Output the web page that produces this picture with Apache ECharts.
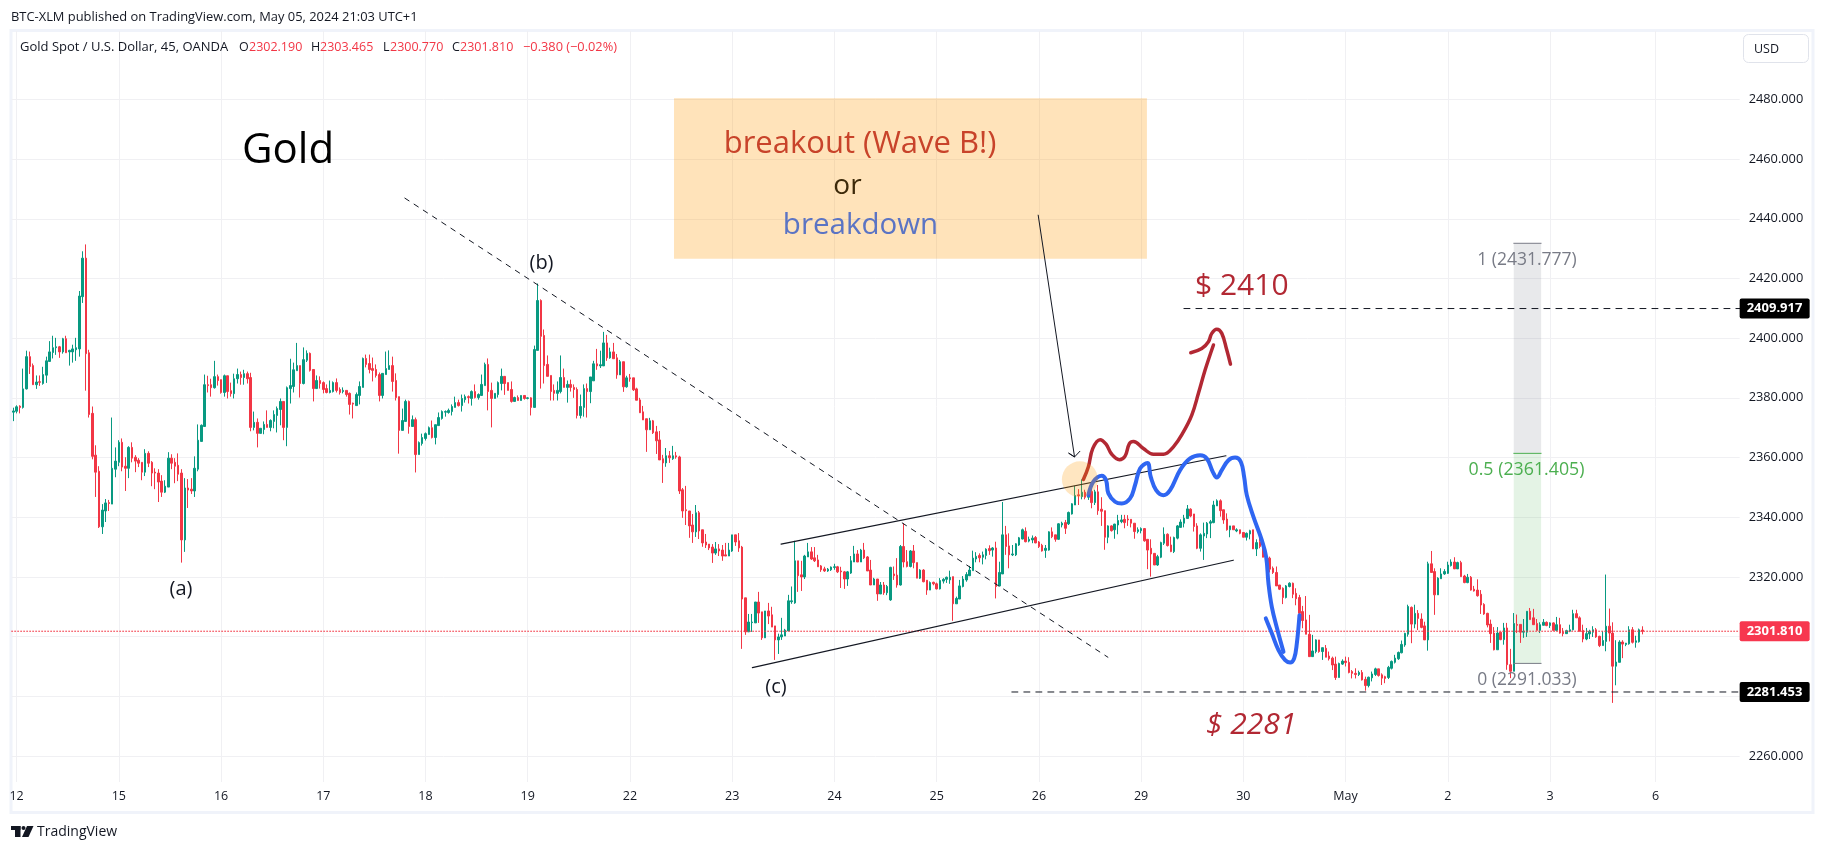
<!DOCTYPE html>
<html><head><meta charset="utf-8">
<style>html,body{margin:0;padding:0;background:#fff}#c{width:1824px;height:852px}</style>
<script src="https://cdn.jsdelivr.net/npm/echarts@6/dist/echarts.min.js"></script>
</head><body><div id="c"></div>
<script>
// Candles per trading day: [open, close, low, high]
const apr11=[[2375.2,2375.6,2372.2,2376.7]];
const apr12=[[2375.5,2377,2374.8,2377.5],[2377.2,2376.8,2374.8,2377.5],[2376.8,2383,2376.4,2389.8],[2383,2393.8,2382.8,2395.8],[2393.8,2390.5,2388,2395.5],[2390.8,2384.4,2384.4,2391.5],[2384.4,2385.3,2383,2387.5],[2385.4,2385.2,2384,2387.5],[2384.8,2387.8,2384.4,2390.4],[2387.6,2392.4,2385,2393.8],[2392.2,2395.4,2392.2,2399],[2395.2,2396.8,2393.2,2400.8],[2396.8,2397.1,2394.4,2400.1],[2397.1,2395.4,2393.4,2397.4],[2395.4,2399.8,2394.8,2400.1],[2399.8,2395.1,2395.1,2400.8],[2395.4,2395.9,2390.8,2396.1],[2395.4,2396.4,2391.8,2397.8],[2396.1,2396.8,2392.4,2400.1],[2396.4,2414.1,2393.8,2415.8],[2413.9,2426.8,2411.8,2429.1],[2426.8,2394.8,2382.4,2431.4],[2395.1,2374.4,2373.4,2396.1],[2374.8,2360.4,2359.4,2377.1],[2360.8,2355.1,2346.8,2364.1],[2355.4,2336.8,2336.4,2357.1],[2336.8,2342.4,2334.4,2344.4],[2342.1,2344.8,2338.4,2346.1],[2344.9,2344.6,2342.1,2345.8],[2344.4,2356.4,2344.4,2373.4],[2356.1,2358.8,2353.4,2363.4]];
const apr15=[[2358.4,2365.1,2357.1,2365.8],[2365.1,2356.8,2355.4,2366.4],[2357.1,2356.4,2348.8,2360.1],[2356.4,2363.4,2353.1,2363.8],[2363.4,2359.8,2358.4,2365.1],[2360.1,2358.8,2355.1,2360.8],[2359.1,2358.1,2356.8,2359.8],[2358.4,2355.1,2352.4,2358.4],[2355.1,2361.4,2353.8,2362.8],[2361.4,2358.1,2356.8,2362.1],[2358.4,2354.8,2350.4,2358.8],[2355.1,2354.8,2349.4,2356.4],[2354.8,2351.8,2345.1,2356.1],[2352.1,2348.4,2346.8,2354.1],[2348.4,2350.4,2348.1,2352.4],[2350.1,2359.8,2350.1,2361.8],[2359.8,2358.1,2356.1,2361.1],[2358.4,2357.1,2351.4,2359.8],[2357.4,2354.4,2352.1,2361.4],[2354.8,2332.4,2324.8,2356.1],[2332.4,2349.8,2328.4,2353.1],[2349.8,2349.1,2343.1,2352.8],[2349.4,2348.8,2347.8,2353.1],[2348.8,2356.4,2346.8,2360.4],[2356.1,2365.8,2355.4,2371.1],[2365.4,2370.8,2365.4,2371.1],[2370.4,2384.4,2370.4,2387.8],[2384.4,2384.1,2381.8,2387.4],[2384.4,2383.4,2380.4,2386.4],[2383.4,2387.1,2383.1,2392.4],[2387.1,2385.8,2384.1,2387.8]];
const apr16=[[2386.1,2381.8,2381.4,2386.1],[2381.8,2387.4,2380.4,2387.8],[2387.4,2382.1,2379.8,2387.4],[2382.4,2381.4,2380.4,2385.1],[2381.4,2386.4,2379.8,2388.1],[2386.4,2387.8,2384.8,2389.8],[2387.8,2386.8,2384.4,2388.8],[2386.8,2388.1,2384.4,2389.4],[2388.1,2386.4,2384.8,2388.8],[2386.8,2370.1,2368.8,2388.4],[2370.1,2371.8,2369.1,2375.4],[2371.8,2368.1,2363.4,2373.1],[2368.1,2369.8,2368.1,2369.8],[2369.4,2371.1,2367.8,2372.1],[2371.1,2370.1,2370.1,2375.8],[2370.1,2372.4,2368.8,2372.8],[2372.1,2374.4,2369.8,2375.8],[2374.1,2376.4,2368.4,2377.1],[2376.1,2378.8,2370.8,2379.8],[2378.8,2370.1,2365.8,2378.8],[2370.1,2383.4,2363.8,2383.8],[2383.1,2384.1,2378.1,2393.1],[2383.8,2389.4,2381.8,2391.8],[2389.1,2390.8,2389.1,2398.4],[2390.8,2384.8,2380.1,2390.8],[2384.8,2392.8,2384.5,2396.9],[2392.6,2394.9,2392,2395.9],[2394.9,2389.2,2388.8,2395.2],[2389.5,2383.1,2378.8,2389.5],[2383.1,2385.8,2383.1,2387.5],[2385.8,2384.8,2383.1,2387.2]];
const apr17=[[2385.1,2382.8,2381.5,2385.5],[2383.1,2381.8,2381.5,2384.5],[2381.8,2382.5,2381.5,2385.8],[2382.1,2385.1,2381.8,2385.5],[2385.1,2382.5,2381.8,2386.5],[2382.8,2381.8,2381.1,2383.5],[2382.1,2382.5,2381.5,2383.5],[2382.5,2381.1,2380.4,2382.5],[2381.5,2377.8,2374.4,2381.8],[2378.2,2377.9,2373.1,2378.4],[2377.4,2381.1,2377.4,2381.8],[2380.8,2383.8,2377.8,2385.5],[2383.5,2393.2,2383.5,2393.5],[2393.2,2391.2,2390.2,2394.5],[2391.5,2389.5,2388.2,2394.5],[2389.8,2389.2,2385.5,2393.5],[2389.5,2387.5,2386.8,2391.2],[2387.8,2380.8,2378.8,2388.5],[2380.8,2388.2,2379.8,2388.2],[2387.8,2389.8,2387.8,2395.5],[2389.5,2390.8,2389.5,2395.9],[2390.8,2385.5,2382.1,2393.8],[2385.8,2380.1,2379.1,2388.2],[2380.4,2369.1,2361.3,2380.4],[2369.1,2372.4,2369.1,2376.4],[2372.1,2378.8,2372.1,2379.4],[2378.8,2370.4,2368,2379.1],[2370.4,2372.7,2370.4,2374.1],[2372.7,2361,2355,2373.4],[2361,2365,2361,2365.4],[2364.7,2366.7,2364,2368]];
const apr18=[[2366.4,2368,2365.7,2368.4],[2367.7,2370,2367.7,2370.4],[2370,2366.7,2366.4,2372.4],[2366.7,2371,2364.4,2371],[2370.7,2373.4,2370.7,2375.1],[2373.1,2375.4,2372.7,2375.8],[2375.2,2375.4,2373.7,2375.8],[2375.1,2375.8,2374.7,2376.4],[2375.4,2377.1,2374.1,2377.8],[2376.8,2378.4,2376.8,2380.4],[2378.4,2377.4,2377.1,2379.4],[2377.4,2379.8,2375.4,2381.1],[2379.4,2380.4,2378.4,2381.1],[2380.4,2380.1,2378.1,2380.8],[2379.8,2382.1,2377.4,2382.5],[2382.1,2380.1,2379.8,2384.5],[2380.1,2381.1,2379.4,2381.5],[2380.8,2384.5,2380.8,2387.8],[2384.1,2391.2,2384.1,2391.8],[2391.2,2382.1,2375.8,2393.2],[2382.5,2379.8,2370.1,2385.1],[2379.8,2381.5,2379.8,2381.5],[2381.1,2385.1,2380.1,2385.5],[2384.8,2387.2,2382.5,2389.8],[2387.2,2384.8,2381,2387.2],[2385.1,2382.5,2382.5,2385.1],[2382.8,2378.8,2378.4,2385.5],[2378.8,2380.1,2378.8,2380.4],[2380.1,2379.1,2379.1,2380.8],[2379.1,2380.8,2379.1,2380.8],[2380.8,2379.8,2379.4,2380.8]];
const apr19=[[2379.8,2380,2379.5,2380.2],[2380,2376.8,2374.1,2380.2],[2376.8,2396.2,2376.8,2397.5],[2395.9,2412.6,2395.9,2418.3],[2412.6,2400.6,2383.1,2413],[2400.9,2390.8,2384.8,2402.9],[2391.2,2387.2,2387.2,2394.2],[2387.5,2382.1,2379.1,2387.5],[2382.5,2381.5,2379.1,2384.5],[2381.5,2382.5,2379.1,2385.5],[2382.1,2386.8,2381.5,2394.2],[2386.8,2383.5,2383.5,2389.8],[2383.5,2384.5,2378.4,2385.8],[2384.5,2383.5,2382.1,2386.1],[2383.5,2382.8,2380,2384.5],[2382.8,2374.1,2373.1,2383.5],[2374.1,2377.1,2373.1,2381.1],[2376.8,2383.1,2373.7,2384.5],[2383.1,2382.1,2373.4,2384.8],[2382.1,2387,2378.2,2387],[2385.7,2391.4,2385.7,2392.4],[2391.4,2390.7,2389.4,2396.4],[2390.7,2391.1,2390,2395.8],[2390.7,2398.4,2390.7,2402.1],[2398.4,2393.4,2392.4,2401.1],[2393.4,2395.4,2393.1,2396.8],[2395.4,2393.1,2393.1,2398.4],[2393.4,2387.7,2386.4,2394.7],[2387.7,2392.1,2387.7,2392.7],[2392.1,2383.7,2382,2392.1],[2383.7,2386.7,2383.4,2387.4]];
const apr22=[[2386.7,2386.4,2385.4,2388],[2386.7,2382.7,2382.3,2386.7],[2383,2379.2,2379.2,2383.4],[2379.3,2375,2375,2380],[2375.3,2372.6,2372.6,2377.3],[2373,2369.3,2361.9,2373],[2369.3,2372.3,2369.3,2373.3],[2372.3,2368.3,2367.9,2372.6],[2368.6,2365.6,2361.2,2370.6],[2365.9,2359.2,2359.2,2368.9],[2359.6,2358.2,2351.5,2360.9],[2358.2,2360.6,2356.9,2363.2],[2360.6,2359.9,2358.2,2362.2],[2359.6,2360.6,2359.2,2363.9],[2360.6,2360.2,2359.6,2361.9],[2360.2,2348.8,2347.8,2360.6],[2349.2,2342.1,2339.8,2349.8],[2342.5,2342.2,2337.4,2350.5],[2342.1,2337.1,2333.1,2342.1],[2337.4,2335.1,2331.4,2341.1],[2335.1,2341.5,2333.4,2344.1],[2341.5,2335.4,2332.7,2342.1],[2335.8,2331.4,2330.1,2335.8],[2331.7,2330.7,2329.7,2334.4],[2331,2329.7,2329,2331],[2330,2328,2324.7,2331],[2328,2329.4,2327.4,2331.7],[2329.4,2328.7,2327,2331],[2329,2327,2325.4,2330.7],[2327.4,2327,2327,2331.4],[2327,2329,2327,2331.4]];
const apr23=[[2328.7,2334.1,2328.4,2334.1],[2334.1,2331.7,2330.4,2334.1],[2332.1,2329.7,2328.4,2334.7],[2330,2312.6,2295.9,2330.4],[2313,2301.6,2300.6,2313],[2301.6,2304.9,2301.6,2307.6],[2304.7,2304.9,2301.6,2307.6],[2304.6,2311.6,2304.6,2311.6],[2311.6,2307.9,2304.6,2315],[2308.3,2299.6,2298.9,2308.3],[2299.6,2308.6,2299.6,2308.6],[2308.6,2306.9,2304.2,2311.3],[2307.3,2303.2,2303.2,2310],[2303.6,2298.9,2292.2,2303.6],[2298.9,2299.9,2294.2,2301],[2299.9,2300.6,2298.9,2306.3],[2300.2,2302.2,2300.2,2302.6],[2301.9,2312,2301.9,2314],[2311.7,2312,2311,2316.8],[2311.3,2325.4,2311,2332.1],[2325.4,2320.4,2315,2325.4],[2320.7,2320,2315.3,2325.4],[2320,2327,2319.3,2327.4],[2326.7,2328.4,2326.7,2331.4],[2328.4,2326,2325.7,2330],[2326.4,2325.4,2325,2330],[2325.7,2323.4,2323.4,2327.4],[2323.7,2322.4,2321.7,2324],[2322.7,2322,2321.7,2323.4],[2322,2322.6,2321.7,2323],[2322.4,2323.3,2322,2323.5]];
const apr24=[[2323.2,2323.4,2322.4,2324.4],[2323.4,2321.7,2321.3,2323.7],[2322,2321.7,2316.3,2323.4],[2321.7,2319.3,2316,2322],[2319.3,2321.7,2317,2322],[2321.3,2325.4,2321,2327],[2325,2327.7,2325,2330.4],[2327.7,2325,2325,2329],[2325,2329,2325,2329.4],[2329,2326.4,2326,2331.4],[2326.7,2322,2322,2327],[2322.3,2317.3,2317.3,2325.7],[2317.3,2319.3,2317.3,2319.7],[2319.3,2314.3,2312,2319.3],[2314.3,2317.3,2314.3,2318.3],[2317.3,2314.7,2314,2318.3],[2314.7,2316.8,2313.9,2317.3],[2312.3,2323.2,2312,2323.4],[2321,2320.4,2319,2323.5],[2320.6,2317.3,2316.4,2326.3],[2317.3,2330.2,2317.1,2330.7],[2330.2,2325,2323.2,2338],[2325.1,2323.5,2323.2,2329],[2323.5,2328.7,2323.2,2329],[2328.7,2324.8,2322.9,2330.7],[2324.8,2319.6,2319.6,2324.8],[2319.6,2322.3,2319.3,2322.6],[2322.3,2318.4,2318.2,2322.6],[2318.9,2315.6,2314,2318.9],[2315.6,2318.1,2315.6,2318.5],[2318.2,2317.7,2317.2,2318.4]];
const apr25=[[2317.7,2316,2315.8,2318.1],[2316,2318.8,2315.8,2319.6],[2318.6,2319.2,2317.8,2319.6],[2319.2,2319.9,2318,2320.1],[2319,2319.9,2317.7,2322.1],[2320.1,2311,2305.3,2320.1],[2311,2312.8,2311,2313.4],[2312.6,2317,2312.6,2319],[2316.8,2319.3,2316.5,2320.3],[2319,2320.8,2318.4,2321.6],[2320.4,2322.3,2320.3,2323.7],[2322.1,2326.3,2322.1,2328.8],[2326,2326.9,2324.9,2328.3],[2327.2,2326.4,2324.9,2327.9],[2326.6,2327.4,2324.2,2328.5],[2327.2,2329.3,2325.9,2329.6],[2329.5,2328.8,2327.4,2330.6],[2329,2329.7,2326.8,2330],[2329.7,2316.8,2312.8,2331.8],[2317,2321.5,2316.8,2325.1],[2321,2334.1,2321,2345.1],[2334.1,2330.2,2327.4,2337.1],[2330.4,2327.4,2322.9,2334.6],[2327.4,2327.7,2327,2330.7],[2327.4,2331.1,2327,2331.3],[2330.7,2333.1,2330.4,2333.4],[2332.7,2335.8,2332.6,2336.2],[2335.3,2331.8,2331.6,2336.6],[2332,2332.6,2331.6,2333.5],[2332.4,2333,2331.3,2333.9],[2333.2,2331.4,2331.3,2333.7]];
const apr26=[[2331.7,2330.2,2329.7,2332],[2330.6,2328.7,2328.5,2331.1],[2328.9,2329.6,2326.4,2330.7],[2329,2335.1,2328.8,2335.3],[2335.1,2333.5,2333,2336.6],[2334.1,2332.6,2331.8,2334.1],[2332.6,2337.8,2332.4,2338],[2337.4,2338,2336.6,2338.5],[2338.2,2336.3,2334.4,2339.1],[2337.8,2341.6,2337.4,2341.9],[2341.1,2344.5,2340.9,2344.7],[2344.1,2347.3,2344.1,2350.5],[2347.5,2347.2,2344.1,2349.4],[2346.9,2348.4,2346,2352.7],[2348.4,2346.7,2346,2349.2],[2346.7,2347.2,2345.8,2348.6],[2348.6,2344.9,2343,2350.3],[2344.9,2348.5,2344.1,2349.2],[2348.5,2342.2,2340.8,2350.8],[2342.7,2342,2337.1,2346.7],[2342.2,2333.3,2329.1,2342.2],[2333.3,2337.1,2331.3,2337.3],[2337.1,2335.5,2335.2,2337.3],[2335.8,2337.7,2332.8,2337.8],[2337.4,2338.9,2334.3,2340.8],[2338.5,2339.1,2338,2340.8],[2339.3,2338.2,2336.3,2340.8],[2339.4,2339.1,2337.1,2340.7],[2339.3,2338,2336.6,2339.3],[2338,2335.2,2332.8,2338],[2335.2,2335.8,2334.6,2336.6]];
const apr29=[[2335.5,2336.2,2334.6,2336.6],[2336.2,2332.1,2331.8,2336.4],[2332.6,2329,2322.6,2332.6],[2329.6,2327.7,2320.1,2332.6],[2327.9,2324,2324,2327.9],[2324,2326.8,2323.7,2327.4],[2326.6,2331.5,2326.3,2331.8],[2331.3,2334.3,2330.7,2336.6],[2334.3,2330.5,2330.2,2334.6],[2330.7,2328.5,2328.3,2333.5],[2328.5,2333.2,2328,2333.5],[2333,2337.1,2332.6,2337.4],[2336.6,2338.4,2336.6,2339.3],[2338,2339.7,2336.6,2340.8],[2339.6,2342.8,2339.6,2344.1],[2342.7,2340.4,2340,2343],[2341.1,2336.9,2335.2,2341.1],[2337.1,2329.6,2329.3,2338],[2329.6,2334.1,2328.5,2334.6],[2333.7,2334.6,2325.7,2338.2],[2334.4,2338,2333,2338.4],[2338,2338.5,2333,2339.1],[2338.2,2344.1,2338,2345.5],[2343.8,2345.5,2343.8,2346],[2345.5,2342.2,2340.2,2346],[2342.5,2339.1,2337.8,2342.5],[2339.4,2335.8,2335.5,2341.3],[2335.8,2337.1,2333.3,2337.1],[2337.1,2335.8,2335.8,2337.1],[2335.4,2335.8,2335,2336.3],[2335.8,2334.6,2334.3,2335.8]];
const apr30=[[2334.9,2333.3,2333.3,2334.9],[2333.3,2334.6,2332.2,2334.9],[2334.4,2335.5,2332.6,2335.8],[2335.8,2329.4,2329.4,2335.8],[2329.4,2331.5,2327,2332.6],[2331.8,2330.2,2329.6,2334.6],[2331.8,2326.6,2326.6,2331.8],[2326.8,2326.2,2325,2328],[2326.3,2322.6,2321.5,2326.8],[2322.9,2321.5,2321,2323.5],[2321.5,2317,2317,2323.5],[2317.3,2315.9,2315.6,2317.3],[2316.2,2313.1,2310.9,2316.5],[2313.1,2317,2312.8,2317.3],[2316.8,2317.9,2316.5,2318.2],[2317.9,2314.2,2312.9,2318.1],[2314.5,2312.7,2310.5,2316.2],[2313.1,2307.8,2307.8,2314],[2308.4,2305.4,2302.8,2310.3],[2305.6,2300.8,2300.8,2313.6],[2300.8,2293.3,2293.3,2307.3],[2293.3,2295.2,2293.3,2300.6],[2295,2298.9,2294.4,2299.1],[2298.9,2295,2294.6,2298.9],[2295,2296.3,2292.2,2296.3],[2296.1,2293.1,2293.1,2297.2],[2293.5,2292.6,2292,2295],[2292.8,2290.5,2288.8,2293.3],[2290.8,2286.3,2285.5,2293.3],[2286.3,2291,2286.3,2291.3],[2290.8,2291.8,2290.5,2292.4]];
const may01=[[2291.8,2291.3,2290,2293.3],[2291.4,2288,2287.7,2293.1],[2288.3,2287.7,2286,2288.8],[2287.7,2287.3,2286,2289.4],[2287.3,2288,2286.8,2288.6],[2288,2285.5,2285.3,2288.8],[2285.7,2283.6,2281.9,2286.6],[2283.6,2286.4,2283,2286.6],[2286.2,2287.5,2285,2288.3],[2287.3,2289.2,2286.8,2289.6],[2289.2,2287,2286.6,2289.2],[2287.2,2286.1,2283.8,2287.7],[2286.6,2286,2284.4,2286.9],[2286.3,2289.7,2285.8,2290.2],[2289.4,2291.7,2289,2292],[2291.4,2292.8,2291,2293.9],[2292.6,2294.7,2292.2,2295],[2294.6,2297.4,2294.4,2298.7],[2297.2,2301.1,2296.6,2301.3],[2300.8,2310.1,2300,2310.7],[2309.8,2304.2,2297.8,2310.1],[2304.2,2307.8,2302.8,2310.7],[2307.8,2306.1,2302.2,2308.9],[2305.9,2303.1,2302.8,2307.8],[2303.6,2298.9,2298.9,2305],[2298.9,2324.4,2295.3,2325.1],[2324.4,2321.5,2321.5,2328.7],[2321.8,2314,2307.3,2322.9],[2314,2319.6,2314,2319.9],[2319.4,2321,2319.4,2322.9],[2321,2321.8,2320.7,2322.6]];
const may02=[[2321.2,2324,2321,2325.1],[2323.8,2325,2323.5,2325.9],[2325,2322.7,2322.7,2326.6],[2322.7,2324.8,2322.7,2325.1],[2324.8,2320.1,2320.1,2325.4],[2320.3,2318.1,2317.9,2320.7],[2318.1,2319.9,2317.9,2321],[2319.9,2315.6,2315.4,2320.3],[2315.9,2315.3,2315.1,2317],[2315.6,2313.7,2313.4,2319.2],[2314.2,2310.6,2307.6,2315.6],[2310.8,2307.6,2307.3,2311.2],[2307.8,2303.9,2303.1,2308],[2304.2,2301,2297.9,2305.7],[2301.2,2295.6,2295.4,2303.2],[2295.6,2301.2,2295.6,2303.2],[2301.5,2299,2298.8,2301.5],[2299,2302.9,2297.3,2304.6],[2302.9,2290.6,2288.9,2304.6],[2290.6,2288.4,2286.1,2295.9],[2288.4,2304.4,2288.4,2307.9],[2304.1,2303.8,2301.2,2307.4],[2304.1,2301.5,2297.9,2304.1],[2301.5,2301.8,2299.6,2305.9],[2301.5,2308.5,2299.9,2308.5],[2308.5,2305.7,2305.7,2309.6],[2306.3,2304,2304,2309.3],[2304.4,2302.1,2302.1,2305.9],[2302.1,2304,2301.2,2304.8],[2303.8,2304.8,2303.8,2305.9],[2304.8,2303.7,2303.5,2305.1]];
const may03=[[2303.7,2304.6,2302.9,2304.8],[2304.6,2302.1,2302.1,2304.8],[2302.1,2304,2301.8,2306.6],[2304,2301.2,2301,2306.3],[2301.5,2301,2300.1,2302.9],[2301,2302,2301,2302.3],[2301.8,2302.3,2301.5,2304],[2302.3,2307.7,2302.1,2309],[2307.7,2306.3,2306.3,2309],[2306.3,2301.8,2301.8,2306.8],[2302.1,2299.2,2298.1,2304],[2299.2,2301,2298.8,2302.9],[2300.9,2301.8,2299.2,2302.3],[2301.5,2302.3,2299.9,2303.5],[2302.3,2299.9,2299.6,2302.9],[2300.1,2297,2296.5,2300.3],[2297,2298.7,2297,2301.8],[2298.4,2303.5,2295.1,2320.8],[2303.5,2301.2,2298.4,2309.4],[2301.2,2290.1,2277.8,2304.8],[2290.1,2291.5,2283.7,2298.8],[2291.4,2298.2,2291.4,2298.8],[2298.2,2297.5,2292.8,2298.8],[2297.4,2297.8,2296.8,2297.9],[2297.6,2302.3,2297.3,2303.5],[2302.3,2298.1,2297.7,2303.2],[2298.1,2298.6,2296.3,2300.3],[2298.3,2302.3,2298,2302.7],[2302.19,2301.81,2300.77,2303.465]];
const days=[["",apr11],["12",apr12],["15",apr15],["16",apr16],["17",apr17],["18",apr18],["19",apr19],["22",apr22],["23",apr23],["24",apr24],["25",apr25],["26",apr26],["29",apr29],["30",apr30],["May",may01],["2",may02],["3",may03]];
const yGrid=[2260,2280,2300,2320,2340,2360,2380,2400,2420,2440,2460,2480];
const yLabels=[2260,2320,2340,2360,2380,2400,2420,2440,2460,2480];

// Annotations, in [bar position, price]
const trendDash=[[117.6,2446.9],[328.4,2293.1]];
const channelTop=[[230.4,2331],[363.8,2360.6]];
const channelBottom=[[221.8,2289.6],[366,2325.6]];
const pointerArrow=[[307.5,2441.2],[318.4,2360.2],[316.6,2361.5],[318.4,2360.2],[320,2362.1]];
const redPath1=[[321.05,2352.65],[322.55,2356.9],[323.85,2363],[326.05,2366],[327.85,2364.5],[329.55,2361.1],[331.85,2359.3],[333.55,2360.5],[334.85,2364.7],[336.05,2365.4],[339.05,2363],[342.05,2361.1],[345.05,2361.1],[348.05,2363.6],[351.05,2368.6],[353.55,2374.2],[355.55,2381.5],[357.55,2389.3],[360.05,2397.7]];
const redPath2=[[353.25,2395.1],[356.55,2396.5],[358.55,2398.8],[359.55,2401.6],[361.05,2403],[362.55,2401.6],[364.05,2396],[365.15,2391.3]];
const bluePath1=[[322.55,2347.4],[324.05,2351.9],[326.55,2353.9],[327.85,2352.4],[328.55,2348],[330.55,2345.2],[332.55,2344.6],[335.05,2346.3],[336.55,2350.8],[338.05,2356.3],[340.25,2358.2],[341.25,2353.5],[342.85,2349.1],[345.05,2347.4],[347.05,2349.1],[350.05,2355.8],[353.05,2359.7],[356.05,2360.8],[358.05,2359.7],[359.85,2355.2],[361.05,2353.3],[362.55,2355.8],[364.55,2359.1],[366.55,2360],[368.25,2358.6],[369.25,2353.5],[370.05,2347.4],[372.05,2340.1],[374.55,2332.3],[375.85,2326.7],[376.55,2317.8],[377.55,2310],[379.25,2302.2],[381.05,2294.9]];
const bluePath2=[[375.75,2306.1],[377.55,2301.1],[379.55,2295.5],[381.55,2292.1],[383.05,2291.3],[384.25,2292.7],[385.05,2297.7],[385.85,2307.2]];
const breakoutSpot=[[320,2352.7]];
const noteBox=[198.3,340.1,2480.4,2426.6];
const fibBars=[450.1,458.3];
const fib1=2431.777, fib05=2361.405, fib0=2291.033;
const levelHigh=2409.917, levelLow=2281.453, lastPrice=2301.81;
const levelHighFrom=351.2, levelLowFrom=299.6;

const candles=[], cats=[];
days.forEach(([label,rows])=>rows.forEach((r,i)=>{candles.push(r);cats.push(i===0?label:'');}));
const futureTickBar=498, slots=524;
while(cats.length<slots)cats.push(cats.length===futureTickBar?'6':'');

const UI='"Open Sans",sans-serif';
const barMin=-0.306, barMax=517.83;
function lineS(name,data,color,width,type,smooth,z){
  return {name,type:'line',xAxisIndex:1,yAxisIndex:0,data,symbol:'none',silent:true,smooth:smooth||false,z:z||5,clip:false,
    lineStyle:{color,width,type:type||'solid',cap:'round',join:'round'}};
}
function tag(text,bg){
  return {show:true,formatter:text,distance:0,backgroundColor:bg,color:'#fff',fontFamily:UI,fontSize:13,fontWeight:700,
    width:56,align:'left',padding:[3,7,3,7],borderRadius:2,lineHeight:14};
}
function t(x,y,text,size,color,extra){
  return {type:'text',x,y,z:50,silent:true,style:Object.assign({text,fontFamily:UI,fontSize:size,fill:color,textVerticalAlign:'middle',textBaseline:'middle'},extra||{})};
}
const red='#f23645', dark='#131722', gray='#787b86', green='#4caf50', annoRed='#b22833';
const graphic=[
  {type:'rect',silent:true,z:0,shape:{x:11,y:30.5,width:1802,height:782},style:{fill:'none',stroke:'#f0f3fa',lineWidth:3}},
  t(11,17.5,'BTC-XLM published on TradingView.com, May 05, 2024 21:03 UTC+1',12.9,dark),
  t(20,47.7,'Gold Spot / U.S. Dollar, 45, OANDA',13,dark),
  t(239,47.7,'O',12.5,dark),t(249,47.7,'2302.190',12.5,red),
  t(311,47.7,'H',12.5,dark),t(320,47.7,'2303.465',12.5,red),
  t(383,47.7,'L',12.5,dark),t(390,47.7,'2300.770',12.5,red),
  t(452,47.7,'C',12.5,dark),t(460,47.7,'2301.810',12.5,red),
  t(523,47.7,'−0.380 (−0.02%)',12.8,red),
  {type:'rect',silent:true,z:50,shape:{x:1743.5,y:34.5,width:65,height:28,r:5},style:{fill:'#fff',stroke:'#e0e3eb',lineWidth:1}},
  t(1754,49,'USD',12.5,dark),
  t(242,151,'Gold',42,'#000'),
  t(541.5,263,'(b)',20,'#131722',{textAlign:'center'}),
  t(181,589,'(a)',20,'#131722',{textAlign:'center'}),
  t(776,687,'(c)',20,'#131722',{textAlign:'center'}),
  t(860,143.7,'breakout (Wave B!)',31,'#c8432a',{textAlign:'center'}),
  t(847.5,186,'or',28,'#3d2a0a',{textAlign:'center'}),
  t(860.5,226,'breakdown',29.5,'#5b74c4',{textAlign:'center'}),
  t(1195,286,'$ 2410',30,annoRed),
  t(1206,725,'$ 2281',30,annoRed,{fontStyle:'italic'}),
  t(1527,260,'1 (2431.777)',17.5,gray,{textAlign:'center'}),
  t(1526.5,470,'0.5 (2361.405)',17.8,green,{textAlign:'center'}),
  t(1527,680,'0 (2291.033)',17.5,gray,{textAlign:'center'}),
  {type:'rect',silent:true,z:50,shape:{x:11,y:826,width:9.5,height:4},style:{fill:dark}},
  {type:'rect',silent:true,z:50,shape:{x:15,y:826,width:5.5,height:11},style:{fill:dark}},
  {type:'circle',silent:true,z:50,shape:{cx:23.5,cy:828,r:2},style:{fill:dark}},
  {type:'polygon',silent:true,z:50,shape:{points:[[27,826],[33.5,826],[28.5,837],[22,837]]},style:{fill:dark}},
  t(37,832.5,'TradingView',14,dark)
];

const series=[
  {type:'line',name:'box',xAxisIndex:1,yAxisIndex:0,data:[],silent:true,z:1,
    markArea:{silent:true,itemStyle:{color:'rgba(255,152,0,0.27)'},data:[[{xAxis:noteBox[0],yAxis:noteBox[2]},{xAxis:noteBox[1],yAxis:noteBox[3]}]]}},
  {type:'line',name:'fibUpper',xAxisIndex:1,yAxisIndex:0,data:[],silent:true,z:1,
    markArea:{silent:true,itemStyle:{color:'rgba(120,123,134,0.17)'},data:[[{xAxis:fibBars[0],yAxis:fib1},{xAxis:fibBars[1],yAxis:fib05}]]}},
  {type:'line',name:'fibLower',xAxisIndex:1,yAxisIndex:0,data:[],silent:true,z:1,
    markArea:{silent:true,itemStyle:{color:'rgba(76,175,80,0.15)'},data:[[{xAxis:fibBars[0],yAxis:fib05},{xAxis:fibBars[1],yAxis:fib0}]]}},
  lineS('fib1',[[fibBars[0],fib1],[fibBars[1],fib1]],gray,1),
  lineS('fib05',[[fibBars[0],fib05],[fibBars[1],fib05]],green,1),
  lineS('fib0',[[fibBars[0],fib0],[fibBars[1],fib0]],gray,1),
  {type:'candlestick',name:'XAUUSD',xAxisIndex:0,yAxisIndex:0,data:candles,barWidth:2,z:3,silent:true,
    itemStyle:{color:'#089981',color0:'#f23645',borderColor:'#089981',borderColor0:'#f23645',borderWidth:1}},
  Object.assign(lineS('last',[[barMin,lastPrice],[barMax,lastPrice]],'#f23645',1,[1,2]),{endLabel:tag('2301.810','#f7374f')}),
  Object.assign(lineS('high',[[levelHighFrom,levelHigh],[barMax,levelHigh]],'#131722',1,[6,6]),{endLabel:tag('2409.917','#000')}),
  Object.assign(lineS('low',[[levelLowFrom,levelLow],[barMax,levelLow]],'#131722',1,[6,6]),{endLabel:tag('2281.453','#000')}),
  lineS('trend',trendDash,'#131722',1,[5,6]),
  lineS('chTop',channelTop,'#131722',1.2),
  lineS('chBottom',channelBottom,'#131722',1.2),
  lineS('arrow',pointerArrow,'#131722',1),
  lineS('red1',redPath1,annoRed,3.5,'solid',0.4,6),
  lineS('red2',redPath2,annoRed,3.5,'solid',0.4,6),
  lineS('blue1',bluePath1,'#2f66f2',4,'solid',0.4,6),
  lineS('blue2',bluePath2,'#2f66f2',4,'solid',0.4,6),
  {type:'scatter',name:'spot',xAxisIndex:1,yAxisIndex:0,data:breakoutSpot,symbolSize:36,silent:true,z:7,itemStyle:{color:'rgba(255,152,0,0.3)'}}
];
const chart=echarts.init(document.getElementById('c'),null,{renderer:'canvas'});
const axisPick=(i,v)=>v!=='';
chart.setOption({
  animation:false,backgroundColor:'#fff',graphic,
  grid:{left:11.65,right:84.35,top:31,bottom:70,containLabel:false},
  xAxis:[
    {type:'category',data:cats,boundaryGap:true,axisLine:{show:false},
     axisTick:{show:false,interval:axisPick,alignWithLabel:true},
     axisLabel:{interval:axisPick,margin:8,color:'#131722',fontFamily:UI,fontSize:12.5,hideOverlap:false},
     splitLine:{show:true,interval:axisPick,alignWithLabel:true,lineStyle:{color:'#f0f0f3',width:1}}},
    {type:'value',min:barMin,max:barMax,show:false,splitLine:{show:false}}
  ],
  yAxis:{type:'value',position:'right',min:2251.3,max:2502.9,scale:true,
    axisLine:{show:false},axisTick:{show:false,customValues:yGrid},
    axisLabel:{customValues:yLabels,margin:9,color:'#131722',fontFamily:UI,fontSize:12.8,formatter:v=>v.toFixed(3)},
    splitLine:{show:true,lineStyle:{color:'#f0f0f3',width:1}}},
  series
});
</script></body></html>
